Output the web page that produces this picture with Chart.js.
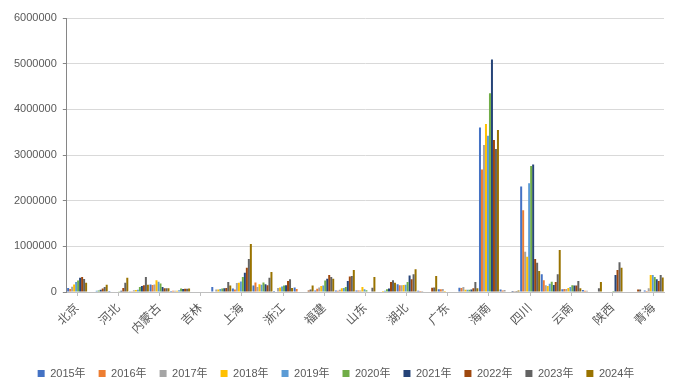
<!DOCTYPE html>
<html>
<head>
<meta charset="utf-8">
<script src="https://cdn.jsdelivr.net/npm/chart.js@4"></script>
<style>
    html, body { margin: 0; padding: 0; background: #ffffff; }
    #wrap { width: 674px; height: 387px; }
</style>
</head>
<body>
<div id="wrap"><canvas id="chartProvinces"></canvas></div>
<script>
        // Catégories (provinces) et séries par année
        const provinces = ['北京', '天津', '河北', '山西', '内蒙古', '辽宁', '吉林', '黑龙江', '上海', '江苏',
            '浙江', '安徽', '福建', '江西', '山东', '河南', '湖北', '湖南', '广东', '广西',
            '海南', '重庆', '四川', '贵州', '云南', '西藏', '陕西', '甘肃', '青海'];
        const years = ['2015年', '2016年', '2017年', '2018年', '2019年', '2020年', '2021年', '2022年', '2023年', '2024年'];

        const v2015 = [85000, 0, 20000, 5000, 165000, 20000, 0, 110000, 75000, 140000, 20000, 100000, 35000, 35000, 35000, 0, 170000, 25000, 60000, 95000, 3600000, 55000, 2310000, 390000, 60000, 45000, 0, 0, 35000];
        const v2016 = [65000, 0, 0, 5000, 155000, 25000, 0, 0, 55000, 210000, 0, 65000, 70000, 25000, 35000, 0, 150000, 20000, 60000, 85000, 2680000, 35000, 1790000, 260000, 65000, 30000, 0, 0, 20000];
        const v2017 = [115000, 0, 0, 40000, 165000, 30000, 0, 55000, 195000, 110000, 90000, 0, 100000, 50000, 35000, 10000, 150000, 20000, 65000, 110000, 3220000, 45000, 880000, 150000, 65000, 25000, 0, 0, 80000];
        const v2018 = [165000, 0, 0, 45000, 255000, 30000, 0, 55000, 200000, 170000, 100000, 0, 130000, 80000, 110000, 20000, 155000, 0, 20000, 50000, 3680000, 0, 770000, 130000, 90000, 0, 0, 0, 375000];
        const v2019 = [220000, 30000, 10000, 50000, 225000, 40000, 0, 65000, 230000, 160000, 120000, 0, 140000, 90000, 60000, 25000, 160000, 0, 0, 50000, 3420000, 0, 2380000, 180000, 110000, 0, 0, 0, 370000];
        const v2020 = [250000, 35000, 15000, 110000, 185000, 75000, 0, 75000, 330000, 210000, 140000, 0, 250000, 110000, 40000, 60000, 220000, 0, 0, 50000, 4350000, 0, 2760000, 225000, 150000, 0, 20000, 0, 330000];
        const v2021 = [310000, 50000, 30000, 130000, 110000, 65000, 0, 80000, 420000, 170000, 150000, 0, 290000, 240000, 0, 75000, 360000, 0, 0, 55000, 5090000, 20000, 2790000, 155000, 145000, 0, 370000, 0, 280000];
        const v2022 = [330000, 75000, 90000, 150000, 80000, 70000, 0, 90000, 530000, 150000, 240000, 35000, 370000, 340000, 0, 220000, 280000, 95000, 0, 80000, 3330000, 15000, 720000, 220000, 145000, 0, 480000, 55000, 240000];
        const v2023 = [285000, 110000, 200000, 330000, 80000, 70000, 0, 220000, 725000, 310000, 280000, 55000, 330000, 350000, 95000, 260000, 390000, 100000, 0, 220000, 3130000, 20000, 640000, 390000, 240000, 80000, 650000, 55000, 375000];
        const v2024 = [200000, 160000, 310000, 160000, 80000, 75000, 0, 140000, 1050000, 440000, 90000, 145000, 290000, 480000, 330000, 205000, 500000, 350000, 0, 80000, 3550000, 35000, 460000, 920000, 80000, 220000, 530000, 0, 320000];

        const yTicks = [0, 1000000, 2000000, 3000000, 4000000, 5000000, 6000000];

        const seriesValues = [v2015, v2016, v2017, v2018, v2019, v2020, v2021, v2022, v2023, v2024];
        const colors = ['#4472C4', '#ED7D31', '#A5A5A5', '#FFC000', '#5B9BD5', '#70AD47', '#264478', '#9E480E', '#636363', '#997300'];

        const fontFamily = '"Liberation Sans", Arial, "Noto Sans CJK SC", sans-serif';
        const textColor = '#595959';

        const datasets = years.map((year, i) => ({
            label: year,
            data: seriesValues[i],
            backgroundColor: colors[i],
            borderWidth: 0,
            categoryPercentage: 0.97,
            barPercentage: 1.0
        }));

        const ctx = document.getElementById('chartProvinces').getContext('2d');
        const chart = new Chart(ctx, {
            type: 'bar',
            data: { labels: provinces, datasets: datasets },
            options: {
                responsive: true,
                maintainAspectRatio: false,
                animation: false,
                layout: { padding: { top: 18, right: 10, left: 8, bottom: -2 } },
                scales: {
                    x: {
                        // hauteur fixe de l'axe pour placer la zone de tracé
                        afterFit: (axis) => { axis.height = 63; },
                        grid: {
                            offset: false,
                            drawOnChartArea: false,
                            drawTicks: true,
                            tickLength: 4,
                            // une graduation sur deux, comme les étiquettes
                            tickColor: (c) => (c.index % 2 === 0 ? '#bfbfbf' : 'rgba(0,0,0,0)')
                        },
                        border: { color: '#bfbfbf' },
                        ticks: {
                            autoSkip: false,
                            maxRotation: 45,
                            minRotation: 45,
                            padding: 5,
                            color: textColor,
                            font: { family: fontFamily, size: 12 },
                            callback: (v, i) => (i % 2 === 0 ? provinces[i] : '')
                        }
                    },
                    y: {
                        min: yTicks[0],
                        max: yTicks[yTicks.length - 1],
                        afterBuildTicks: (axis) => { axis.ticks = yTicks.map(v => ({ value: v })); },
                        grid: { color: '#d9d9d9', tickColor: '#868686', tickLength: 4 },
                        border: { color: '#868686' },
                        ticks: {
                            padding: 6,
                            color: textColor,
                            font: { family: fontFamily, size: 11 },
                            callback: (v) => String(v)
                        }
                    }
                },
                plugins: {
                    legend: {
                        display: true,
                        position: 'bottom',
                        labels: {
                            boxWidth: 7,
                            boxHeight: 7,
                            padding: 13,
                            color: textColor,
                            font: { family: fontFamily, size: 11 }
                        }
                    },
                    tooltip: { enabled: false }
                }
            }
        });
</script>
</body>
</html>
